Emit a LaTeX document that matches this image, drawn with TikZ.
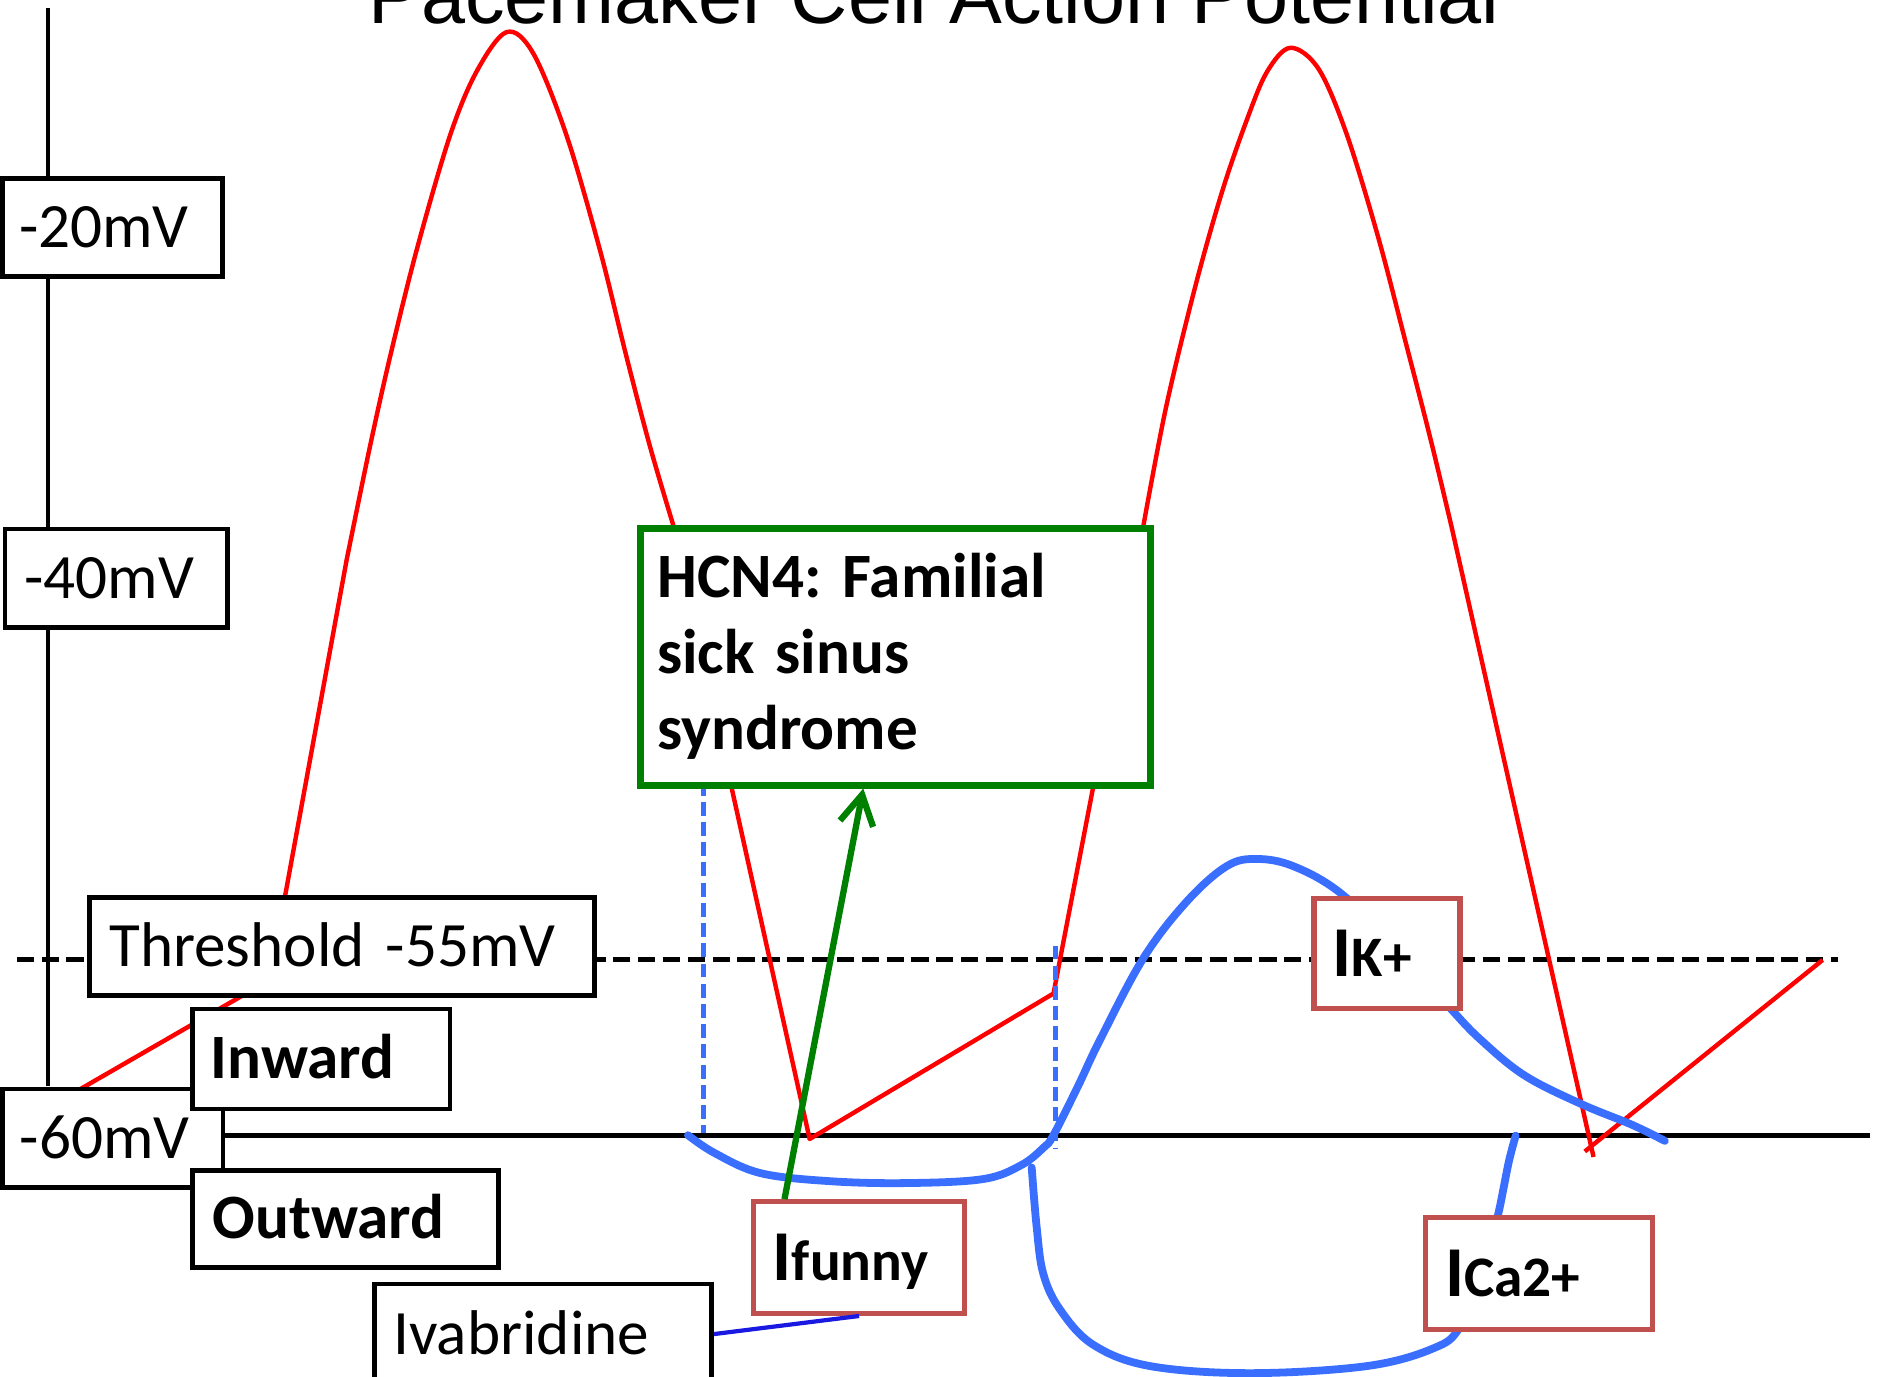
\documentclass[tikz,border=0pt]{standalone}
\usepackage{fontspec}
\setmainfont{Carlito}
\newfontfamily\titlefont{Liberation Sans}
\usetikzlibrary{arrows.meta,calc}
\definecolor{apblue}{RGB}{58,110,255}
\definecolor{apgreen}{RGB}{0,128,0}
\definecolor{apbrick}{RGB}{192,80,77}
\definecolor{ivblue}{RGB}{25,25,225}
\newcommand\labfont{\fontsize{15}{18}\selectfont}
\newcommand\bigI{{\fontsize{17}{17}\selectfont I}}
\newcommand\smallpart[1]{{\fontsize{13.6}{14}\selectfont #1}}
\frenchspacing
\tikzset{
  vbox/.style={draw=black, line width=1.1pt, fill=white, anchor=north west, inner ysep=0pt,
    align=left, text height=9.48pt, text depth=0pt, font=\labfont},
  cbox/.style={draw=apbrick, line width=1.2pt, fill=white, anchor=north west, inner ysep=0pt,
    align=left, text height=10.74pt, text depth=0pt, font=\bfseries},
  redc/.style={draw=red, line width=1.05pt, line join=round},
  bluec/.style={draw=apblue, line width=1.85pt, line cap=round},
  bluedash/.style={draw=apblue, line width=1.15pt, dash pattern=on 3.3pt off 1.5pt},
  thrdash/.style={draw=black, line width=1.2pt, dash pattern=on 4.1pt off 1.8pt},
  axline/.style={draw=black, line width=1.05pt},
}
\begin{document}
\begin{tikzpicture}[x=0.01cm,y=-0.01cm]
\useasboundingbox (0,0) rectangle (1568,1149);
\clip (0,0) rectangle (1568,1149);

% title
\node[anchor=base west, inner sep=0pt, font=\titlefont\fontsize{18.8}{20}\selectfont] (title) at (307,19.6) {Pacemaker Cell Action Potential};

% axes
\coordinate (axtop) at (40.3,7);
\coordinate (axbot) at (40.3,907);
\draw[axline] (axtop) -- (axbot);
\coordinate (baseL) at (184,948);
\coordinate (baseR) at (1561.4,948);
\draw[axline] (baseL) -- (baseR);
\coordinate (thrL) at (14,801);
\coordinate (thrR) at (1534.4,801);
\draw[thrdash] (thrL) -- (thrR);

% action potential (red)
\draw[redc] (0,948) -- (225.2,818.1) -- plot[smooth, tension=0.55] coordinates {(289.4,467.6) (308.9,372.8) (325.6,298.2) (347.9,208.7) (375.7,113.3) (398,59.6) (423,26.8) (445.3,44.7) (473.1,113.3) (500.9,208.7) (522.6,296) (542.7,372.8) (562.1,438.4)}
  -- (676,951) -- (879.6,829.5) -- plot[smooth, tension=0.55] coordinates {(954.3,440.9) (973.6,339.9) (997.8,239.9) (1020.4,159.9) (1041.1,99.9) (1057.9,59.9) (1077.4,39.9) (1100.9,57.5) (1124.3,111.8) (1150.7,198.1) (1174.1,287.6) (1194.6,367.4) (1212.2,440.9)}
  -- (1330.5,966);
\draw[redc] (1323.2,961.4) -- (1521.8,801.5);

% blue dashed markers
\draw[bluedash] (587.2,652.6) -- (587.2,946);
\draw[bluedash] (881.2,789.5) -- (881.2,959.5);

% currents (blue)
\draw[bluec] plot[smooth, tension=0.6] coordinates {(574.4,947.8) (596.8,962.8) (635,979.5) (692.7,986.2) (756.5,987.8) (820.5,984.5) (852.5,972.9) (871.7,957.8) (879.6,947.7) (900.4,906.2) (918.4,868.3) (954.6,800.1) (990.8,752.8) (1024.2,723.2) (1049.3,717.2) (1079.8,723.2) (1118.8,745.3) (1165,790) (1210.7,841.6) (1236.5,868.3) (1272.7,897.8) (1319.6,921.5) (1363,939.3) (1390,952.6)};
\draw[bluec] plot[smooth, tension=0.6] coordinates {(861.4,974.8) (865.6,1025.1) (871.1,1063.6) (885,1093.3) (912.8,1122.8) (960.2,1140.6) (1043.7,1146.5) (1141.1,1140.6) (1196.7,1125.8) (1219,1108) (1240,1060) (1251,1013.3) (1254.7,995.5) (1260,968.9) (1265.5,948.2)};

% label boxes
\node[vbox, minimum width=1.837cm, minimum height=0.819cm, text width=1.557cm, inner xsep=0.14cm] (n20) at (0,146.9) {-20mV};
\node[vbox, minimum width=1.857cm, minimum height=0.821cm, text width=1.537cm, inner xsep=0.16cm] (n40) at (2.2,439.7) {-40mV};
\node[vbox, minimum width=1.84cm, minimum height=0.821cm, text width=1.55cm, inner xsep=0.145cm] (n60) at (0,907.3) {-60mV};
\node[vbox, minimum width=4.216cm, minimum height=0.821cm, text width=3.886cm, inner xsep=0.165cm] (thr) at (72.8,747.3) {Threshold -55mV};
\node[vbox, font=\labfont\bfseries, minimum width=2.147cm, minimum height=0.835cm, text width=1.847cm, inner xsep=0.15cm] (inw) at (159,840.5) {Inward};
\node[vbox, font=\labfont\bfseries, minimum width=2.549cm, minimum height=0.807cm, text width=2.219cm, inner xsep=0.165cm] (outw) at (159,975.5) {Outward};
\node[vbox, minimum width=2.816cm, minimum height=0.836cm, text width=2.496cm, inner xsep=0.16cm] (ivab) at (310.5,1070.1) {Ivabridine};

\node[cbox, minimum width=1.758cm, minimum height=0.933cm, text width=1.438cm, inner xsep=0.16cm] (ifun) at (627.2,1001.2) {\bigI\smallpart{funny}};
\node[cbox, minimum width=1.218cm, minimum height=0.924cm, text width=0.908cm, inner xsep=0.155cm] (ik) at (1095,747.7) {\bigI\smallpart{K+}};
\node[cbox, minimum width=1.895cm, minimum height=0.932cm, text width=1.565cm, inner xsep=0.165cm] (ica) at (1187.9,1014.8) {\bigI\smallpart{Ca2+}};

% HCN4 box
\node[draw=apgreen, line width=1.6pt, fill=white, anchor=north west, minimum width=4.257cm, minimum height=2.143cm, inner sep=0pt] (hcn) at (532,438.3) {};
\node[anchor=base west, inner sep=0pt, align=left, text width=4cm, font=\fontsize{15}{18.1}\selectfont\bfseries] (hcntxt) at (548,498.7) {HCN4: Familial\\sick sinus\\syndrome};

% connectors
\draw[draw=ivblue, line width=1pt] (ivab.east) -- (ifun.south);
\draw[draw=apgreen, line width=1.5pt, -{Straight Barb[length=7pt,width=8pt]}] ($(ifun.north west)+(27.8,0)$) -- ($(hcn.south west)+(188.8,0)$);
\end{tikzpicture}
\end{document}
